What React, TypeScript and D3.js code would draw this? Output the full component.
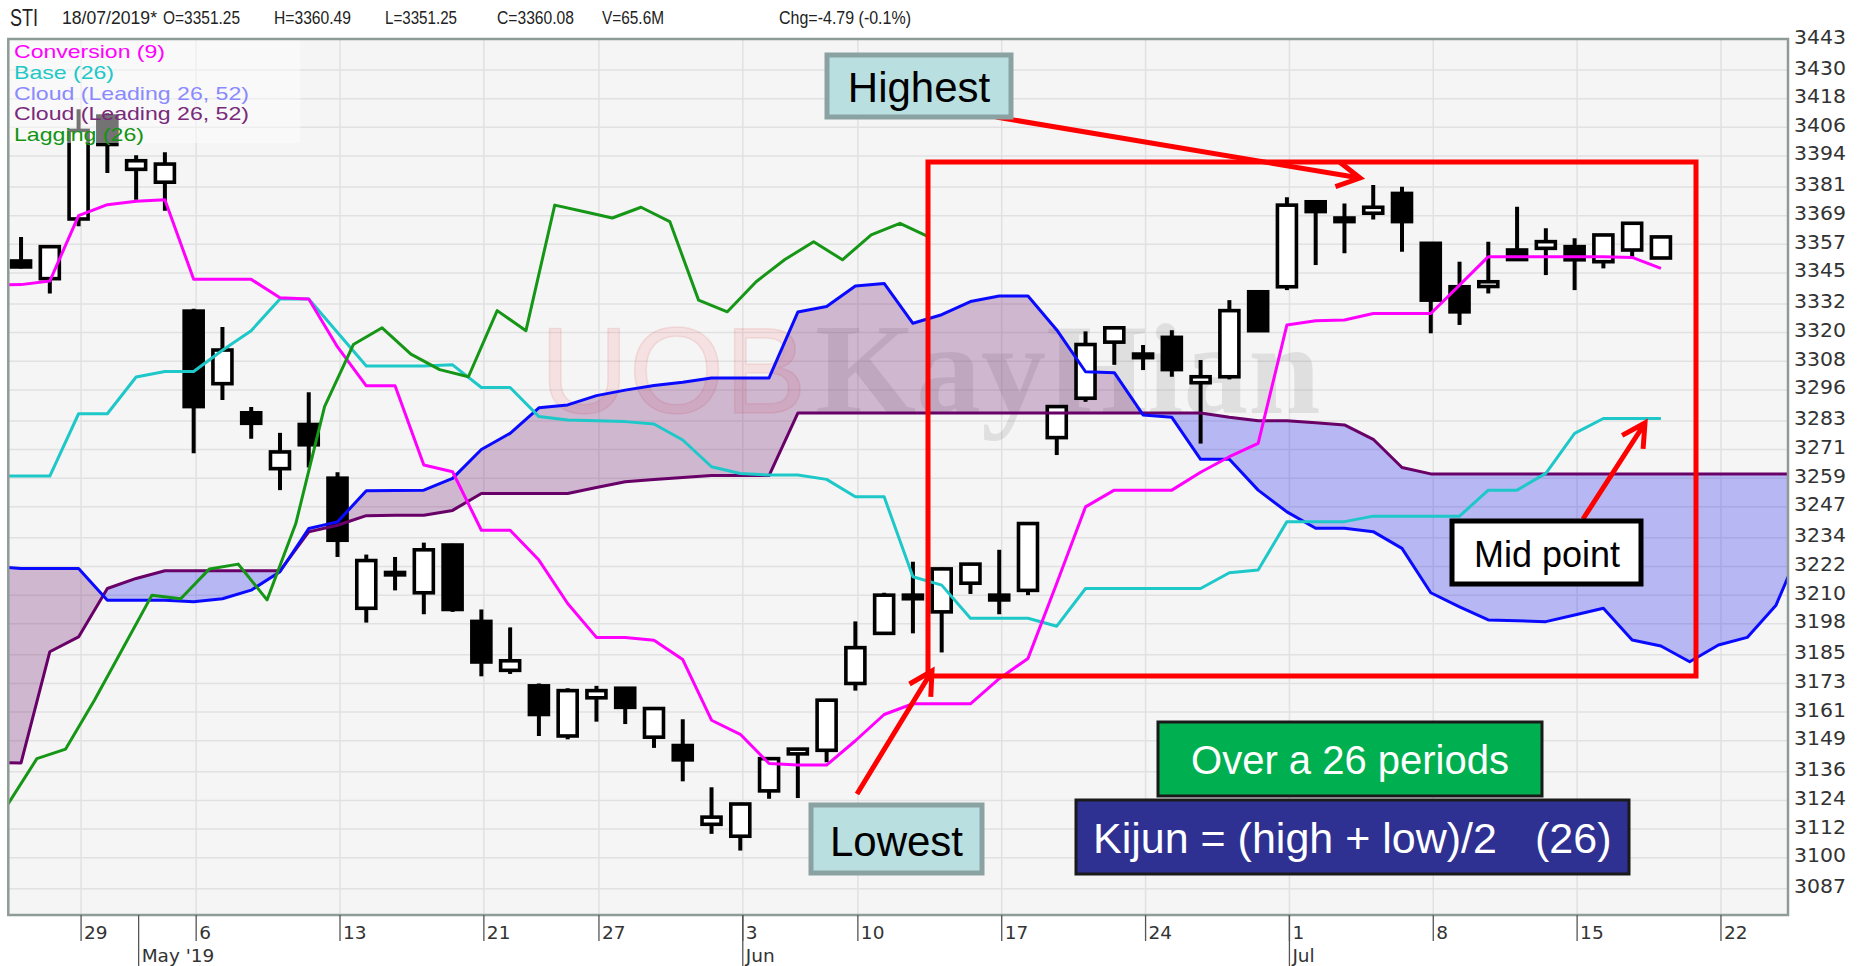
import React from 'react';
import * as d3 from 'd3';

// ---------- DATA ----------
// trading days (index 0 = day before the first candle, cloud runs 5 days past the last candle)
const days = [
  '2019-04-24', '2019-04-25', '2019-04-26', '2019-04-29', '2019-04-30', '2019-05-02', '2019-05-03',
  '2019-05-06', '2019-05-07', '2019-05-08', '2019-05-09', '2019-05-10', '2019-05-13', '2019-05-14',
  '2019-05-15', '2019-05-16', '2019-05-17', '2019-05-21', '2019-05-22', '2019-05-23', '2019-05-24',
  '2019-05-27', '2019-05-28', '2019-05-29', '2019-05-30', '2019-05-31', '2019-06-03', '2019-06-04',
  '2019-06-06', '2019-06-07', '2019-06-10', '2019-06-11', '2019-06-12', '2019-06-13', '2019-06-14',
  '2019-06-17', '2019-06-18', '2019-06-19', '2019-06-20', '2019-06-21', '2019-06-24', '2019-06-25',
  '2019-06-26', '2019-06-27', '2019-06-28', '2019-07-01', '2019-07-02', '2019-07-03', '2019-07-04',
  '2019-07-05', '2019-07-08', '2019-07-09', '2019-07-10', '2019-07-11', '2019-07-12', '2019-07-15',
  '2019-07-16', '2019-07-17', '2019-07-18', '2019-07-19', '2019-07-22', '2019-07-23', '2019-07-24',
  '2019-07-25',
];

// candles: 2019-04-25 .. 2019-07-18
const open = [
  3350, 3342.6, 3367.6, 3410.7, 3388.4, 3383, 3329, 3298.6, 3286.4, 3263,
  3281.5, 3259, 3204.5, 3218.5, 3211, 3231, 3199, 3178.5, 3172, 3151,
  3167, 3171, 3150.5, 3147, 3114, 3109, 3128, 3143.5, 3145, 3173,
  3194, 3210, 3203, 3215, 3210, 3212, 3276, 3292.5, 3316, 3309.5,
  3318, 3299, 3301.5, 3337.1, 3339.2, 3374.8, 3366.5, 3370, 3378.3, 3357.4,
  3339.2, 3339.3, 3354.6, 3355.3, 3356, 3349.7, 3354.6, 3351.25,
];
const high = [
  3360, 3356.5, 3413.6, 3412, 3394.3, 3395.6, 3330, 3322.3, 3288.8, 3278,
  3295, 3261.5, 3227, 3226, 3232, 3231.5, 3204, 3196.5, 3173, 3171,
  3172, 3171.5, 3163, 3158, 3129.5, 3123, 3142, 3146, 3166.5, 3199,
  3211, 3224, 3221.5, 3223.5, 3229, 3240.5, 3289.5, 3320.5, 3322.3, 3314.8,
  3321, 3308.5, 3333.6, 3337.5, 3376.7, 3375, 3374.1, 3381.8, 3381.1, 3357.6,
  3349.7, 3358.1, 3372.7, 3363.7, 3359.5, 3361.2, 3366.1, 3360.49,
];
const low = [
  3346.8, 3336.4, 3364.6, 3386.9, 3375.7, 3371, 3269.5, 3291.8, 3275.5, 3254,
  3263.5, 3226, 3198.5, 3212, 3202, 3203, 3176, 3177, 3151, 3149.6,
  3157, 3156, 3146, 3132, 3110, 3103, 3124.7, 3125, 3140, 3170,
  3193.5, 3194, 3186, 3210.5, 3202, 3210, 3268.7, 3291, 3306.5, 3304.3,
  3301.5, 3273.5, 3300.4, 3320.5, 3337.8, 3348.3, 3353.2, 3367.4, 3353.9, 3319.7,
  3323.2, 3336.4, 3350.4, 3344.1, 3337.8, 3346.9, 3351.8, 3351.25,
];
const close = [
  3347.5, 3356, 3404.7, 3398.8, 3392, 3390.6, 3289, 3312.7, 3282, 3270,
  3273, 3233, 3224.5, 3219.5, 3229, 3204, 3182, 3182.5, 3160, 3170,
  3170, 3163, 3162.5, 3141, 3117, 3122.5, 3141.5, 3145.5, 3166, 3188,
  3210, 3208.5, 3221, 3223, 3208, 3240, 3289, 3315, 3322, 3311,
  3304.5, 3301.5, 3329.2, 3320.8, 3373.4, 3370.7, 3368, 3372.5, 3366.5, 3333.6,
  3328.7, 3341.3, 3350.6, 3358.1, 3350.5, 3360.9, 3365.8, 3360.08,
];

// conversion & base: 2019-04-24 .. 2019-07-18
const conversion = [
  3340, 3340.1, 3341.6, 3369, 3373.6, 3375, 3375.7, 3342.3, 3342.3, 3342.3,
  3334.6, 3334.1, 3314, 3297.7, 3297.7, 3264.5, 3261.7, 3237.2, 3237.2, 3224.7,
  3206.5, 3192.3, 3192.3, 3191.1, 3183, 3157.6, 3151.7, 3139.5, 3138.8, 3138.8,
  3149, 3160, 3164.5, 3164.5, 3164.5, 3175, 3183.5, 3215, 3247, 3254,
  3254, 3254, 3261.5, 3268, 3273.6, 3323.2, 3325, 3325.3, 3328, 3328,
  3328, 3339.9, 3351.8, 3351.8, 3351.8, 3351.8, 3351.8, 3351.5, 3346.9,
];
const base = [
  3260, 3259.9, 3259.9, 3286, 3286, 3301.4, 3303.7, 3303.7, 3312.6, 3320.8,
  3334.1, 3334.1, 3320, 3306, 3306, 3306, 3306.5, 3297, 3297, 3284.8,
  3283.4, 3283.1, 3282.7, 3281.7, 3275, 3263.8, 3261, 3260.3, 3260.3, 3258.5,
  3251.2, 3251.2, 3217.7, 3214.2, 3200.3, 3200.3, 3200.3, 3197, 3212.8, 3212.8,
  3212.8, 3212.8, 3212.8, 3219.4, 3220.5, 3240.8, 3240.8, 3240.8, 3243.1, 3243.1,
  3243.1, 3243.1, 3254, 3254, 3261, 3277.8, 3284, 3284, 3284,
];
// leading spans: 2019-04-24 .. 2019-07-25
const spanA = [
  3222, 3221.2, 3221.2, 3221.2, 3207.9, 3207.9, 3207.9, 3207.2, 3208.5, 3212.1,
  3219.8, 3237.9, 3240.7, 3253.7, 3253.8, 3254, 3258.9, 3271, 3277.8, 3288.5,
  3289.7, 3293.6, 3295.9, 3297.8, 3299.2, 3301, 3301, 3301, 3328.6, 3330.9,
  3339.5, 3340.6, 3323.9, 3327.5, 3333, 3335.3, 3335.3, 3321.1, 3303.6, 3303.2,
  3285.5, 3284.5, 3266.9, 3266.9, 3254, 3244.9, 3238, 3238, 3236.6, 3229.6,
  3211, 3205.1, 3199.6, 3199.3, 3198.9, 3201.7, 3204.5, 3191.2, 3188.7, 3182.1,
  3189.1, 3192.3, 3205.8, 3234,
];
const spanB = [
  3140, 3139.7, 3186.3, 3192.5, 3212.8, 3217, 3220.2, 3220.2, 3220.2, 3220.2,
  3220.2, 3236.5, 3239.3, 3243.3, 3243.5, 3243.5, 3245.5, 3252.6, 3252.6, 3252.6,
  3252.6, 3255.1, 3257.5, 3258.5, 3259.3, 3260.1, 3260.1, 3260.1, 3286.3, 3286.3,
  3286.3, 3286.3, 3286.3, 3286.3, 3286.3, 3286.3, 3286.3, 3286.3, 3286.3, 3286.3,
  3286.3, 3286.3, 3286.3, 3284.5, 3283.1, 3283.1, 3282.2, 3281.3, 3275.3, 3263.5,
  3260.8, 3260.8, 3260.8, 3260.8, 3260.8, 3260.8, 3260.8, 3260.8, 3260.8, 3260.8,
  3260.8, 3260.8, 3260.8, 3260.8,
];

const yTicks = [
  3443, 3430, 3418, 3406, 3394, 3381, 3369, 3357, 3345, 3332, 3320, 3308, 3296, 3283, 3271,
  3259, 3247, 3234, 3222, 3210, 3198, 3185, 3173, 3161, 3149, 3136, 3124, 3112, 3100, 3087,
];
const dayTicks = ['2019-04-29', '2019-05-06', '2019-05-13', '2019-05-21', '2019-05-27', '2019-06-03',
  '2019-06-10', '2019-06-17', '2019-06-24', '2019-07-01', '2019-07-08', '2019-07-15', '2019-07-22'];
const dayTickLabels = ['29', '6', '13', '21', '27', '3', '10', '17', '24', '1', '8', '15', '22'];
const monthTicks = ['2019-05-02', '2019-06-03', '2019-07-01'];
const monthTickLabels = ["May '19", 'Jun', 'Jul'];

const legendLabels = ['Conversion (9)', 'Base (26)', 'Cloud (Leading 26, 52)', 'Cloud (Leading 26, 52)', 'Lagging (26)'];
const legendColors = ['#ff00ff', '#20c8c8', '#8a8aff', '#7a2a7a', '#129412'];
const headerTexts = ['STI', '18/07/2019*', 'O=3351.25', 'H=3360.49', 'L=3351.25', 'C=3360.08', 'V=65.6M', 'Chg=-4.79 (-0.1%)'];

// ---------- LAYOUT ----------
const W = 1866, H = 966;
const PL = 8.3, PR = 1788, PT = 39, PB = 915;
const headerX = [10, 62, 163, 274, 385, 497, 602, 779];
const headerW = [28, 95, 77, 77, 72, 77, 62, 132];
const legendW = [151, 100, 235, 235, 130];

const C_CONV = '#ff00ff', C_BASE = '#1ec8c8', C_A = '#0a0aff', C_B = '#680068', C_LAG = '#169616';
const FILL_UP = 'rgba(120,40,120,0.30)';
const FILL_DN = 'rgba(20,20,240,0.28)';

function arrowPath(x1: number, y1: number, x2: number, y2: number, len = 26, ang = 0.5) {
  const a = Math.atan2(y2 - y1, x2 - x1);
  const b1x = x2 - len * Math.cos(a - ang), b1y = y2 - len * Math.sin(a - ang);
  const b2x = x2 - len * Math.cos(a + ang), b2y = y2 - len * Math.sin(a + ang);
  return `M${x1},${y1}L${x2},${y2}M${b1x},${b1y}L${x2},${y2}L${b2x},${b2y}`;
}

export default function App() {
  const x = d3.scaleLinear().domain([-0.53, 61.33]).range([PL, PR]);
  const y = d3.scaleLinear().domain([3076, 3443]).range([PB, PT]);
  const iOf = (d: string) => days.indexOf(d) - 1; // candle index of a date
  const cx = (i: number) => x(i) - 2.5;

  const lineFrom = (vals: number[], startI: number, shift = 0) =>
    d3.line<number>().x((_, k) => cx(startI + k + shift)).y((v) => y(v))(vals) || '';

  // cloud polygons split by which span is on top
  const upParts: string[] = [];
  const dnParts: string[] = [];
  const poly = (pts: [number, number][]) =>
    'M' + pts.map(([i, v]) => `${cx(i)},${y(v)}`).join('L') + 'Z';
  for (let p = 0; p < spanA.length - 1; p++) {
    const i0 = p - 1, i1 = p;
    const a0 = spanA[p], b0 = spanB[p], a1 = spanA[p + 1], b1 = spanB[p + 1];
    const d0 = a0 - b0, d1 = a1 - b1;
    if (d0 * d1 >= 0) {
      const s = poly([[i0, a0], [i1, a1], [i1, b1], [i0, b0]]);
      (d0 + d1 >= 0 ? upParts : dnParts).push(s);
    } else {
      const t = d0 / (d0 - d1);
      const im = i0 + t, vm = a0 + t * (a1 - a0);
      (d0 > 0 ? upParts : dnParts).push(poly([[i0, a0], [im, vm], [i0, b0]]));
      (d1 > 0 ? upParts : dnParts).push(poly([[im, vm], [i1, a1], [i1, b1]]));
    }
  }

  // lagging line: closes plotted 26 periods back
  const lagStart = 24;
  const lagVals = close.slice(lagStart);
  const lagPath = d3.line<number>().x((_, k) => cx(lagStart + k - 26 + 0.55)).y((v) => y(v))(lagVals) || '';

  const bodyW = 19;

  return (
    <div style={{ position: 'absolute', left: 0, top: 0 }}>
      <svg width={W} height={H} xmlns="http://www.w3.org/2000/svg" style={{ display: 'block', background: '#fff' }}>
        <defs>
          <clipPath id="plotClip">
            <rect x={PL} y={PT} width={PR - PL} height={PB - PT} />
          </clipPath>
        </defs>

        {/* header */}
        {headerTexts.map((t, k) => (
          <text key={t} x={headerX[k]} y={k === 0 ? 26 : 24}
            fontFamily="'Liberation Sans', Arial, sans-serif" fontSize={k === 0 ? 24 : 18.5} fill="#222"
            textLength={headerW[k]} lengthAdjust="spacingAndGlyphs">{t}</text>
        ))}

        {/* plot background */}
        <rect x={PL} y={PT} width={PR - PL} height={PB - PT} fill="#f5f5f5" />

        {/* grid */}
        <g stroke="#e1e1e1" strokeWidth={1.5}>
          {yTicks.map((v) => (
            <line key={v} x1={PL} x2={PR} y1={y(v)} y2={y(v)} />
          ))}
          {dayTicks.map((d) => (
            <line key={d} x1={x(iOf(d))} x2={x(iOf(d))} y1={PT} y2={PB} />
          ))}
        </g>

        <g clipPath="url(#plotClip)">
          {/* watermark */}
          <text x={540} y={413} fontFamily="'Liberation Sans', Arial, sans-serif" fontSize={123}
            fill="rgba(255,0,0,0.08)" stroke="rgba(200,40,40,0.10)" strokeWidth={1.5}>UOB</text>
          <text x={815} y={413} fontFamily="'Liberation Serif', 'Times New Roman', serif" fontWeight="bold"
            fontSize={130} fill="rgba(0,0,0,0.085)">KayHian</text>

          {/* cloud */}
          <path d={upParts.join('')} fill={FILL_UP} />
          <path d={dnParts.join('')} fill={FILL_DN} />

          {/* candles */}
          {close.map((c, i) => {
            const o = open[i];
            const up = c >= o;
            const top = y(Math.max(o, c));
            const bot = y(Math.min(o, c));
            const xc = cx(i);
            return (
              <g key={i}>
                <line x1={xc} x2={xc} y1={y(high[i])} y2={y(low[i])} stroke="#000" strokeWidth={4} />
                <rect x={xc - bodyW / 2} y={top} width={bodyW} height={Math.max(1, bot - top)}
                  fill={up ? '#fff' : '#000'} stroke="#000" strokeWidth={3.6} />
              </g>
            );
          })}

          {/* lines */}
          <g fill="none" strokeWidth={3} strokeLinejoin="round">
            <path d={lineFrom(spanB, -1)} stroke={C_B} />
            <path d={lineFrom(spanA, -1)} stroke={C_A} />
            <path d={lineFrom(base, -1)} stroke={C_BASE} />
            <path d={lineFrom(conversion, -1)} stroke={C_CONV} />
            <path d={lagPath} stroke={C_LAG} />
          </g>

          {/* legend */}
          <rect x={PL} y={PT} width={292} height={104} fill="rgba(255,255,255,0.45)" />
          {legendLabels.map((t, k) => (
            <text key={k} x={14} y={58 + k * 20.8} fontFamily="'Liberation Sans', Arial, sans-serif" fontSize={19}
              fill={legendColors[k]} textLength={legendW[k]} lengthAdjust="spacingAndGlyphs">{t}</text>
          ))}
        </g>

        {/* frame */}
        <rect x={PL} y={PT} width={PR - PL} height={PB - PT} fill="none" stroke="#8e9c98" strokeWidth={2.5} />

        {/* y axis labels */}
        {yTicks.map((v) => (
          <text key={v} x={1794} y={y(v) + 4.5} fontFamily="'DejaVu Sans', sans-serif" fontSize={19}
            fill="#333" textLength={52} lengthAdjust="spacingAndGlyphs">{v}</text>
        ))}

        {/* x axis ticks */}
        <g stroke="#555" strokeWidth={1.3}>
          {dayTicks.map((d) => (
            <line key={d} x1={x(iOf(d))} x2={x(iOf(d))} y1={PB} y2={941} />
          ))}
          {monthTicks.map((d) => (
            <line key={d} x1={x(iOf(d))} x2={x(iOf(d))} y1={PB} y2={966} />
          ))}
        </g>
        {dayTicks.map((d, k) => (
          <text key={d} x={x(iOf(d)) + 3} y={939} fontFamily="'DejaVu Sans', sans-serif" fontSize={18.5}
            fill="#333">{dayTickLabels[k]}</text>
        ))}
        {monthTicks.map((d, k) => (
          <text key={d} x={x(iOf(d)) + 3} y={962} fontFamily="'DejaVu Sans', sans-serif" fontSize={18.5}
            fill="#333">{monthTickLabels[k]}</text>
        ))}

        {/* annotations */}
        <rect x={928} y={162} width={768} height={514} fill="none" stroke="#ff0000" strokeWidth={5} />

        <g fill="none" stroke="#ff0000" strokeWidth={5}>
          <path d={arrowPath(996, 117, 1360, 178)} />
          <path d={arrowPath(857, 794, 932, 671)} />
          <path d={arrowPath(1583, 519, 1645, 423)} />
        </g>

        <rect x={827} y={55} width={184} height={62} fill="#b9dfe1" stroke="#8ba2a3" strokeWidth={5} />
        <text x={919} y={87} textAnchor="middle" dominantBaseline="central"
          fontFamily="'Liberation Sans', Arial, sans-serif" fontSize={42} fill="#000">Highest</text>

        <rect x={811} y={805} width={171} height={68} fill="#b9dfe1" stroke="#8ba2a3" strokeWidth={5} />
        <text x={896.5} y={841} textAnchor="middle" dominantBaseline="central"
          fontFamily="'Liberation Sans', Arial, sans-serif" fontSize={42} fill="#000">Lowest</text>

        <rect x={1452} y={521} width={189} height={63} fill="#fff" stroke="#000" strokeWidth={5} />
        <text x={1547} y={554} textAnchor="middle" dominantBaseline="central"
          fontFamily="'Liberation Sans', Arial, sans-serif" fontSize={36} fill="#000">Mid point</text>

        <rect x={1158} y={722} width={384} height={74} fill="#00b050" stroke="#1a1a1a" strokeWidth={3} />
        <text x={1350} y={760} textAnchor="middle" dominantBaseline="central"
          fontFamily="'Liberation Sans', Arial, sans-serif" fontSize={40} fill="#fff">Over a 26 periods</text>

        <rect x={1076} y={800} width={553} height={74} fill="#2e3192" stroke="#1a1a1a" strokeWidth={3} />
        <text x={1093} y={838} dominantBaseline="central"
          fontFamily="'Liberation Sans', Arial, sans-serif" fontSize={43} fill="#fff">Kijun = (high + low)/2</text>
        <text x={1535} y={838} dominantBaseline="central"
          fontFamily="'Liberation Sans', Arial, sans-serif" fontSize={43} fill="#fff">(26)</text>
      </svg>
    </div>
  );
}
